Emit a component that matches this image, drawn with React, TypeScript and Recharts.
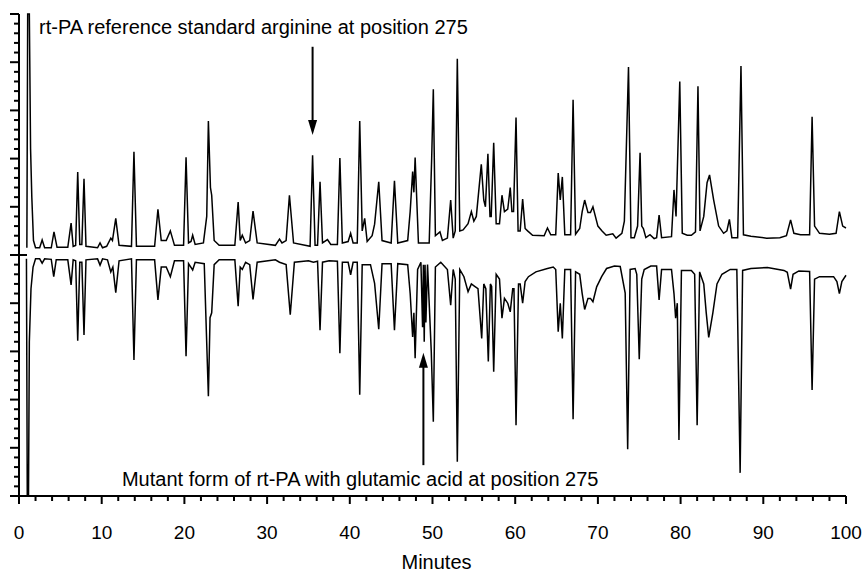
import { LineChart, Line, XAxis, YAxis, ReferenceLine, ReferenceDot } from "recharts";

// peak trace points: [minutes, signal]
const refTrace: [number, number][] = [
  [0.95, 1.5], [1.05, 50], [1.25, 50], [1.4, 22], [1.55, 12], [1.75, 3], [2.0, 1.5],
  [2.5, 1.5], [2.8, 3.1], [3.1, 1.5], [3.9, 1.5], [4.23, 4.8], [4.6, 1.6], [5.9, 1.6],
  [6.3, 6.6], [6.55, 1.8], [6.85, 2], [7.1, 17.2], [7.35, 2.2], [7.6, 2.2], [7.86, 15.8],
  [8.1, 1.8], [9.5, 1.5], [9.8, 2.5], [10.1, 1.5], [10.6, 1.8], [11.1, 3.5], [11.3, 3],
  [11.7, 7.6], [12.1, 2], [13.6, 1.8], [13.9, 21.4], [14.2, 1.8], [16.4, 1.8], [16.8, 9.5],
  [17.2, 3], [17.8, 3], [18.3, 5.0], [18.8, 2], [19.9, 2], [20.2, 20.3], [20.5, 2.5],
  [20.8, 2.8], [21.0, 4.1], [21.3, 2.2], [22.3, 2.5], [22.7, 8], [22.9, 27.8], [23.15, 14],
  [23.3, 12.4], [23.6, 3], [24.2, 2], [26.1, 2], [26.5, 11], [26.75, 3], [27.0, 4.1],
  [27.4, 2.5], [27.9, 3], [28.3, 9.1], [28.8, 2.5], [31.0, 2], [31.5, 3.3], [31.8, 2.5],
  [32.3, 3], [32.7, 12.4], [33.2, 2.5], [35.2, 1.8], [35.5, 20.7], [35.8, 2], [36.1, 2],
  [36.4, 15.2], [36.7, 2.5], [37.3, 3.2], [37.7, 2.2], [38.5, 2.2], [38.8, 20.1], [39.1, 2.5],
  [39.8, 2.8], [40.1, 4.5], [40.4, 2.5], [40.9, 2.5], [41.2, 27.8], [41.5, 5], [41.8, 7.6],
  [42.1, 2.8], [42.7, 4], [43.0, 6.4], [43.5, 15.2], [43.9, 3], [45.0, 2.5], [45.4, 15.4],
  [45.8, 2.5], [47.0, 3], [47.3, 9], [47.6, 17.3], [47.75, 13], [47.9, 20.2], [48.3, 2.5],
  [49.6, 2.5], [49.9, 20], [50.1, 34.4], [50.35, 4], [50.9, 4.8], [51.2, 3], [51.8, 3.5],
  [52.2, 11.4], [52.5, 3.5], [52.75, 5], [53.0, 40.7], [53.3, 5], [53.7, 5.2], [54.3, 6.5],
  [54.7, 9.0], [55.0, 7], [55.3, 8], [55.9, 18.8], [56.2, 11.4], [56.4, 10], [56.7, 21.0],
  [56.95, 8], [57.1, 8], [57.4, 23.3], [57.7, 6.5], [58.1, 6.5], [58.4, 12.4], [58.7, 9],
  [59.1, 9.5], [59.4, 14], [59.6, 9], [59.8, 9], [60.1, 28.5], [60.35, 5], [60.6, 5],
  [60.9, 11.6], [61.2, 5.5], [61.5, 5], [62.1, 4.1], [63.5, 4], [63.9, 5.6], [64.3, 4.2],
  [64.9, 4.2], [65.2, 17], [65.45, 11.4], [65.7, 16.2], [66.0, 4.2], [66.7, 4.2], [67.0, 32.2],
  [67.3, 4.3], [67.8, 5.5], [68.1, 9], [68.4, 11.4], [68.8, 8.8], [69.1, 8.8], [69.4, 10],
  [70.0, 6], [70.5, 5], [71.0, 4.1], [71.8, 4.4], [72.2, 3.5], [72.9, 4.5], [73.2, 7],
  [73.7, 39], [74.0, 3.6], [74.4, 3.6], [74.8, 6], [75.1, 21.2], [75.3, 6], [75.5, 5.5],
  [75.8, 3.6], [76.3, 4.2], [76.8, 3.4], [77.1, 3.6], [77.4, 8.3], [77.7, 3.6], [78.9, 3.8],
  [79.2, 13.5], [79.45, 8], [79.9, 36], [80.2, 4.5], [80.8, 4.1], [81.3, 4.1], [81.8, 4.8],
  [82.1, 35], [82.35, 5], [82.8, 8], [83.2, 15], [83.5, 16.6], [84.0, 11.4], [84.6, 6],
  [85.2, 4.5], [85.6, 5], [85.9, 7.4], [86.2, 3.6], [86.9, 3.6], [87.3, 39.2], [87.6, 4.2],
  [88.5, 3.9], [90.4, 3.5], [92.0, 3.6], [92.8, 4], [93.3, 7.3], [93.7, 4.5], [94.5, 4.2],
  [95.6, 4.2], [95.9, 28.7], [96.2, 6], [96.8, 4.5], [98.0, 4.3], [98.8, 4.5], [99.2, 9],
  [99.6, 6], [100, 5.6],
];

const mutTrace: [number, number][] = [
  [0.9, -0.8], [1.0, -50], [1.15, -50], [1.25, -18], [1.45, -7], [1.7, -2.5], [2.0, -0.8],
  [2.5, -0.8], [2.8, -1.7], [3.1, -0.8], [3.9, -0.9], [4.2, -4.5], [4.5, -1], [5.9, -1],
  [6.3, -6.2], [6.55, -1], [6.85, -1.2], [7.1, -17.8], [7.35, -1.5], [7.6, -1.5], [7.86, -16.6],
  [8.1, -1], [9.5, -0.8], [9.8, -2.1], [10.1, -0.8], [10.7, -1], [11.1, -3.5], [11.35, -2.5],
  [11.7, -7.8], [12.1, -1.2], [13.6, -0.8], [13.9, -21.8], [14.2, -1], [16.4, -1], [16.8, -9.3],
  [17.2, -2.5], [17.8, -2.5], [18.3, -4.5], [18.8, -1.2], [19.9, -1.2], [20.2, -21], [20.5, -1.8],
  [21.0, -3.1], [21.3, -1.5], [22.4, -1.8], [22.9, -29.3], [23.1, -13], [23.3, -12], [23.6, -2],
  [24.2, -1], [26.1, -1], [26.5, -10.6], [26.75, -2.5], [27.0, -3], [27.4, -1.5], [27.9, -2],
  [28.3, -9.2], [28.8, -1.5], [31.0, -1], [31.5, -1.5], [32.3, -2], [32.8, -12.4], [33.3, -1.5],
  [35.0, -1.2], [35.6, -1.5], [36.1, -1.3], [36.4, -15.6], [36.7, -1.5], [37.5, -1.2], [38.5, -1.3],
  [38.8, -20.4], [39.1, -1.5], [39.8, -1.5], [40.1, -4.1], [40.4, -1.5], [40.9, -1.5], [41.2, -29],
  [41.5, -2], [42.5, -2], [43.0, -5.9], [43.5, -15.4], [43.9, -1.8], [45.0, -1.8], [45.4, -15.6],
  [45.8, -1.8], [47.0, -2], [47.3, -8], [47.6, -17], [47.75, -12], [47.9, -21.4], [48.2, -3],
  [48.6, -1.5], [48.8, -15], [48.9, -2], [49.0, -18], [49.1, -2], [49.2, -14], [49.4, -2],
  [49.85, -20], [50.1, -34.6], [50.35, -2.5], [51.0, -1.5], [51.8, -3], [52.2, -10.4], [52.5, -3],
  [52.75, -5], [53.0, -42.9], [53.3, -3], [53.8, -4.5], [54.3, -7.6], [54.7, -6], [55.1, -6.5],
  [55.5, -7], [55.95, -17.3], [56.2, -6], [56.45, -7], [56.75, -22.1], [57.0, -6], [57.15, -6.5],
  [57.4, -24.2], [57.7, -4], [58.1, -5], [58.4, -13.1], [58.7, -9], [59.1, -10], [59.4, -11.8],
  [59.7, -7], [59.85, -7], [60.1, -35.3], [60.4, -6], [60.6, -6], [60.9, -10], [61.2, -5.5],
  [61.6, -4.5], [62.5, -3.5], [63.9, -2.8], [64.6, -2.5], [64.9, -3], [65.2, -15.9], [65.45, -10],
  [65.7, -17.3], [66.0, -3], [66.7, -3], [67.0, -34.1], [67.3, -3.5], [67.8, -4], [68.1, -8],
  [68.4, -11.3], [68.8, -9], [69.1, -9], [69.4, -9.7], [69.85, -6.6], [70.45, -4.5], [71.05, -2.8],
  [72.0, -2.3], [72.7, -2.4], [73.3, -7.9], [73.6, -40.3], [73.9, -3], [74.5, -2.8], [74.7, -4],
  [75.0, -21.6], [75.3, -5], [75.6, -3], [76.4, -2.3], [77.1, -2.3], [77.4, -9.3], [77.7, -3],
  [78.9, -3], [79.2, -8], [79.4, -13.1], [79.6, -10], [79.8, -38.4], [80.1, -3.2], [81.3, -3.2],
  [81.7, -4], [82.0, -35.3], [82.3, -3.5], [82.8, -6], [83.1, -12], [83.4, -17.1], [83.9, -12],
  [84.4, -6], [85.0, -4], [86.0, -3], [86.8, -3], [87.2, -45.2], [87.5, -3.2], [88.5, -2.8],
  [90.5, -2.6], [92.5, -3.2], [92.9, -3.6], [93.3, -7.1], [93.6, -4], [94.3, -3.3], [95.6, -3.4],
  [95.9, -28], [96.2, -5], [96.8, -4.5], [98.5, -4.5], [98.9, -5.5], [99.2, -8], [99.5, -5.5],
  [100, -4.2],
];

const xTicks = Array.from({ length: 51 }, (_, i) => i * 2);
const yTicks = Array.from({ length: 51 }, (_, i) => -50 + i * 2);

const refData = refTrace.map(([t, v]) => ({ t, v }));
const mutData = mutTrace.map(([t, v]) => ({ t, v }));

const FONT = '"Liberation Sans", Arial, sans-serif';

function XTick({ x, y, payload }: any) {
  const major = payload.value % 10 === 0;
  return (
    <g>
      <line x1={x} x2={x} y1={y} y2={y + (major ? 8 : 5)} stroke="#000" strokeWidth={2} />
      {major && (
        <text x={x} y={y + 43} textAnchor="middle" fontSize={19} fontFamily={FONT} fill="#000">
          {payload.value}
        </text>
      )}
    </g>
  );
}

function YTick({ x, y, payload }: any) {
  const v = payload.value;
  const major = v % 10 === 0;
  return (
    <line x1={x - (major ? 9 : 5)} x2={v === 0 ? x + 8 : x} y1={y} y2={y} stroke="#000" strokeWidth={2} />
  );
}

function AxisTitle({ viewBox }: any) {
  if (!viewBox) return null;
  return (
    <text x={viewBox.x + viewBox.width / 2 + 4} y={viewBox.y + 73} textAnchor="middle" fontSize={20} fontFamily={FONT} fill="#000">
      Minutes
    </text>
  );
}

function arrow(props: any) {
  const { x1, y1, x2, y2 } = props;
  const dir = y2 > y1 ? 1 : -1;
  return (
    <g>
      <line x1={x1} y1={y1} x2={x2} y2={y2 - dir * 12} stroke="#000" strokeWidth={2} />
      <polygon points={`${x2 - 4.5},${y2 - dir * 15} ${x2 + 4.5},${y2 - dir * 15} ${x2},${y2}`} fill="#000" />
    </g>
  );
}

function note(text: string) {
  return (props: any) => (
    <text x={props.cx} y={props.cy} fontSize={20} fontFamily={FONT} fill="#000">
      {text}
    </text>
  );
}

export default function App() {
  return (
    <div style={{ position: "absolute", left: 0, top: 0, background: "#fff" }}>
      <LineChart width={863} height={574} margin={{ top: 14, right: 17, bottom: 0, left: 0 }}>
        <XAxis
          type="number"
          dataKey="t"
          domain={[0, 100]}
          ticks={xTicks}
          interval={0}
          tick={<XTick />}
          tickLine={false}
          tickSize={0}
          tickMargin={0}
          height={78}
          axisLine={{ stroke: "#000", strokeWidth: 2 }}
          label={<AxisTitle />}
        />
        <YAxis
          type="number"
          domain={[-50, 50]}
          ticks={yTicks}
          interval={0}
          tick={<YTick />}
          tickLine={false}
          tickSize={0}
          tickMargin={0}
          width={19}
          axisLine={{ stroke: "#000", strokeWidth: 2 }}
        />
        <Line data={refData} dataKey="v" type="linear" stroke="#000" strokeWidth={1.5} dot={false} isAnimationActive={false} />
        <Line data={mutData} dataKey="v" type="linear" stroke="#000" strokeWidth={1.5} dot={false} isAnimationActive={false} />
        <ReferenceLine segment={[{ x: 35.5, y: 43.2 }, { x: 35.5, y: 24.9 }]} shape={arrow} />
        <ReferenceLine segment={[{ x: 48.9, y: -43.6 }, { x: 48.9, y: -20.3 }]} shape={arrow} />
        <ReferenceDot x={2.42} y={45.85} r={0} shape={note("rt-PA reference standard arginine at position 275")} />
        <ReferenceDot x={12.45} y={-47.9} r={0} shape={note("Mutant form of rt-PA with glutamic acid at position 275")} />
      </LineChart>
    </div>
  );
}
